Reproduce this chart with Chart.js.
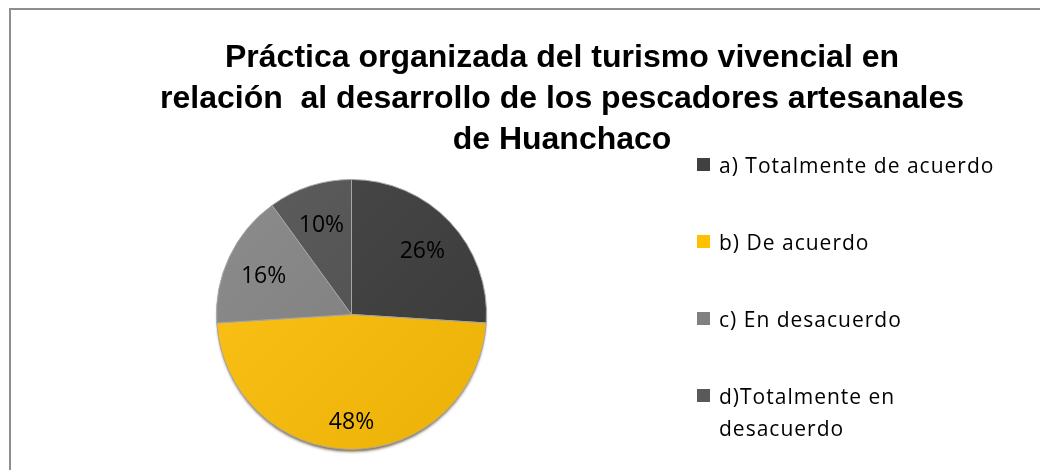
<!DOCTYPE html>
<html>
<head>
<meta charset="utf-8">
<script src="https://cdn.jsdelivr.net/npm/chart.js@4.4.0/dist/chart.umd.min.js"></script>
<style>
  html, body { margin: 0; padding: 0; background: #ffffff; }
  #wrap { position: relative; width: 1040px; height: 470px; }
</style>
</head>
<body>
<div id="wrap"><canvas id="pie-chart"></canvas></div>
<script>
// Chart data
const titleLines = [
  'Práctica organizada del turismo vivencial en',
  'relación  al desarrollo de los pescadores artesanales',
  'de Huanchaco'
];
const categories = [
  'a) Totalmente de acuerdo',
  'b) De acuerdo',
  'c) En desacuerdo',
  'd)Totalmente en desacuerdo'
];
// legend text as it wraps in the original
const legendLines = [
  ['a) Totalmente de acuerdo'],
  ['b) De acuerdo'],
  ['c) En desacuerdo'],
  ['d)Totalmente en', 'desacuerdo']
];
const percentages = [26, 48, 16, 10];
const sliceColors = ['#404040', '#f3b90f', '#828282', '#535353'];
const legendColors = ['#404040', '#ffc000', '#808080', '#595959'];

// lighten / darken a hex colour
function shade(hex, amt) {
  const n = parseInt(hex.slice(1), 16);
  const c = [(n >> 16) & 255, (n >> 8) & 255, n & 255].map(v => Math.max(0, Math.min(255, Math.round(v + amt))));
  return `rgb(${c[0]}, ${c[1]}, ${c[2]})`;
}

// soft Excel-like gradient across the pie
function sliceFill(context) {
  const chart = context.chart;
  const area = chart.chartArea;
  if (!area) return sliceColors[context.dataIndex];
  const base = sliceColors[context.dataIndex];
  const g = chart.ctx.createLinearGradient(area.left, area.top, area.right, area.bottom);
  g.addColorStop(0, shade(base, 10));
  g.addColorStop(1, shade(base, -8));
  return g;
}

// frame, title and legend drawn on the canvas
const decorations = {
  id: 'decorations',
  beforeDraw(chart) {
    const ctx = chart.ctx;
    ctx.save();
    ctx.strokeStyle = '#8e8e8e';
    ctx.lineWidth = 2;
    ctx.beginPath();
    ctx.moveTo(10, 480);
    ctx.lineTo(10, 9);
    ctx.lineTo(1050, 9);
    ctx.stroke();

    ctx.fillStyle = '#000000';
    ctx.font = "bold 32px 'Liberation Sans', Arial, sans-serif";
    ctx.textAlign = 'center';
    ctx.textBaseline = 'alphabetic';
    titleLines.forEach((line, i) => {
      ctx.fillText(line, 562, 67 + i * 41);
    });

    ctx.font = "21px 'Open Sans', sans-serif";
    ctx.letterSpacing = '1px';
    ctx.textAlign = 'left';
    legendLines.forEach((lines, i) => {
      const baseY = 173 + i * 77;
      ctx.fillStyle = legendColors[i];
      ctx.fillRect(697, baseY - 15, 13, 13);
      ctx.fillStyle = '#000000';
      lines.forEach((t, j) => ctx.fillText(t, 719, baseY + j * 32));
    });
    ctx.restore();
  },
  beforeDatasetsDraw(chart) {
    // drop shadow under the pie
    const arc = chart.getDatasetMeta(0).data[0];
    if (!arc) return;
    const { x, y, outerRadius } = arc.getProps(['x', 'y', 'outerRadius'], true);
    const ctx = chart.ctx;
    ctx.save();
    ctx.shadowColor = 'rgba(60, 40, 0, 0.75)';
    ctx.shadowBlur = 3;
    ctx.shadowOffsetY = 3;
    ctx.fillStyle = '#6b5a20';
    ctx.beginPath();
    ctx.arc(x, y, outerRadius - 1, 0, Math.PI * 2);
    ctx.fill();
    ctx.restore();
  },
  afterDatasetsDraw(chart) {
    const ctx = chart.ctx;
    const meta = chart.getDatasetMeta(0);
    ctx.save();
    ctx.font = "23px 'Open Sans', sans-serif";
    ctx.fillStyle = '#000000';
    ctx.textAlign = 'center';
    ctx.textBaseline = 'middle';
    meta.data.forEach((arc, i) => {
      const p = arc.getProps(['x', 'y', 'startAngle', 'endAngle', 'outerRadius'], true);
      const mid = (p.startAngle + p.endAngle) / 2;
      const r = p.outerRadius * (percentages[i] > 40 ? 0.78 : 0.72);
      ctx.fillText(percentages[i] + '%', p.x + Math.cos(mid) * r, p.y + Math.sin(mid) * r + 3);
    });
    ctx.restore();
  }
};

const ctx = document.getElementById('pie-chart').getContext('2d');
new Chart(ctx, {
  type: 'pie',
  data: {
    labels: categories,
    datasets: [{
      data: percentages,
      backgroundColor: sliceFill,
      borderColor: '#a6a6a6',
      borderWidth: 1
    }]
  },
  options: {
    responsive: true,
    maintainAspectRatio: false,
    animation: false,
    layout: {
      padding: { left: 216, right: 553, top: 179, bottom: 20 }
    },
    plugins: {
      legend: { display: false },
      title: { display: false },
      tooltip: { enabled: false }
    }
  },
  plugins: [decorations]
});
</script>
</body>
</html>
